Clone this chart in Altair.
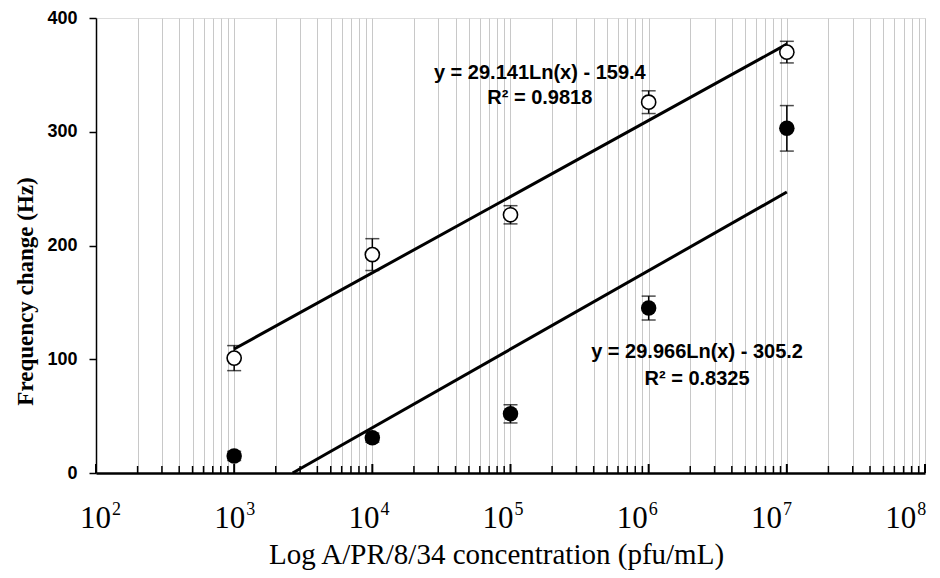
import altair as alt
import pandas as pd

# ---------------- data ----------------
conc = [1e3, 1e4, 1e5, 1e6, 1e7]
open_mean = [101, 192, 227, 326, 370]
open_err = [11, 14, 8, 10, 9.5]
filled_mean = [15, 31, 52, 145, 303]
filled_err = [4, 4, 8, 10.5, 20]

fit_upper_x = [1e3, 1e7]
fit_upper_y = [109, 377]
fit_lower_x = [2650, 1e7]
fit_lower_y = [0, 247]

eq_text = ["y = 29.141Ln(x) - 159.4", "R\u00b2 = 0.9818",
           "y = 29.966Ln(x) - 305.2", "R\u00b2 = 0.8325"]
eq_x = [1.63e5, 1.63e5, 2.24e6, 2.24e6]
eq_y = [352, 330, 106, 83]

decades = [1e2, 1e3, 1e4, 1e5, 1e6, 1e7, 1e8]
exponents = ["2", "3", "4", "5", "6", "7", "8"]
y_ticks = [0, 100, 200, 300, 400]
grid_vals = [m * d for d in decades[:-1] for m in range(1, 10)] + [1e8]

# ---------------- layout ----------------
W, H = 829, 455
SERIF = "Liberation Serif"
SANS = "Liberation Sans"

xscale = alt.Scale(type="log", domain=[1e2, 1e8], nice=False)
yscale = alt.Scale(domain=[0, 400], nice=False)

pts = pd.DataFrame({
    "conc": conc * 2,
    "mean": open_mean + filled_mean,
    "err": open_err + filled_err,
    "series": ["open"] * 5 + ["filled"] * 5,
})
pts["lo"] = pts["mean"] - pts["err"]
pts["hi"] = pts["mean"] + pts["err"]

fits = pd.DataFrame({
    "x": fit_upper_x + fit_lower_x,
    "y": fit_upper_y + fit_lower_y,
    "fit": ["upper"] * 2 + ["lower"] * 2,
})
eqs = pd.DataFrame({"text": eq_text, "x": eq_x, "y": eq_y})
minor_df = pd.DataFrame({"v": [v for v in grid_vals if v not in decades]})
dec_df = pd.DataFrame({"v": decades, "e": exponents})

xaxis = alt.Axis(values=grid_vals, grid=True, gridColor="#c8c8c8", gridWidth=1,
                 labels=False, ticks=False, domain=True, domainColor="black",
                 domainWidth=2.5,
                 title="Log A/PR/8/34 concentration (pfu/mL)",
                 titleFont=SERIF, titleFontSize=29, titleFontWeight="normal",
                 titleColor="black", titleX=400, titleY=90,
                 titleAlign="center", titleBaseline="alphabetic")
yaxis = alt.Axis(values=y_ticks, grid=False, domainColor="black", domainWidth=1.5,
                 tickColor="black", tickWidth=1.5, tickSize=7,
                 labelFont=SANS, labelFontWeight="bold", labelFontSize=18,
                 labelColor="black", labelPadding=12,
                 title="Frequency change (Hz)", titleFont=SERIF, titleFontSize=23,
                 titleFontWeight="bold", titleColor="black", titleX=-71,
                 titleY=273, titleAngle=270, titleAlign="center",
                 titleBaseline="middle")

X = alt.X("x:Q", scale=xscale, axis=xaxis)
Y = alt.Y("y:Q", scale=yscale, axis=yaxis)

lines = alt.Chart(fits).mark_line(color="black", strokeWidth=3).encode(
    x=X, y=Y, detail="fit:N",
)

minor_ticks = alt.Chart(minor_df).mark_rule(color="black", strokeWidth=1.5).encode(
    x=alt.X("v:Q", scale=xscale),
    y=alt.value(H),
    y2=alt.value(H - 7),
)
major_ticks = alt.Chart(dec_df).mark_rule(color="black", strokeWidth=2).encode(
    x=alt.X("v:Q", scale=xscale),
    y=alt.value(H),
    y2=alt.value(H - 9),
)

err_rules = alt.Chart(pts).mark_rule(color="black", strokeWidth=1.5).encode(
    x=alt.X("conc:Q", scale=xscale),
    y=alt.Y("lo:Q", scale=yscale),
    y2="hi:Q",
)
cap_lo = alt.Chart(pts).mark_tick(orient="horizontal", size=14, thickness=1.5,
                                  color="black").encode(
    x=alt.X("conc:Q", scale=xscale),
    y=alt.Y("lo:Q", scale=yscale),
)
cap_hi = alt.Chart(pts).mark_tick(orient="horizontal", size=14, thickness=1.5,
                                  color="black").encode(
    x=alt.X("conc:Q", scale=xscale),
    y=alt.Y("hi:Q", scale=yscale),
)

open_pts = alt.Chart(pts).transform_filter("datum.series == 'open'").mark_point(
    shape="circle", size=200, fill="white", fillOpacity=1, stroke="black",
    strokeWidth=1.6, opacity=1).encode(
    x=alt.X("conc:Q", scale=xscale),
    y=alt.Y("mean:Q", scale=yscale),
)
filled_pts = alt.Chart(pts).transform_filter("datum.series == 'filled'").mark_circle(
    size=240, color="black", opacity=1).encode(
    x=alt.X("conc:Q", scale=xscale),
    y=alt.Y("mean:Q", scale=yscale),
)

eq_layer = alt.Chart(eqs).mark_text(font=SANS, fontWeight="bold", fontSize=20,
                                    color="black", align="center",
                                    baseline="middle").encode(
    x=alt.X("x:Q", scale=xscale),
    y=alt.Y("y:Q", scale=yscale),
    text="text:N",
)

# decade labels "10" + superscript exponent, evenly spaced under the axis
lab = alt.Chart(dec_df).transform_calculate(
    px="-16 + 134.2 * (log(datum.v) / LN10 - 2)"
)
ten_labels = lab.mark_text(font=SERIF, fontSize=31, color="black",
                           align="left", baseline="alphabetic").encode(
    x=alt.X("px:Q", scale=None),
    y=alt.value(H + 55),
    text=alt.value("10"),
)
exp_labels = lab.mark_text(font=SERIF, fontSize=18, color="black",
                           align="left", baseline="alphabetic", dx=32).encode(
    x=alt.X("px:Q", scale=None),
    y=alt.value(H + 42),
    text="e:N",
)

chart = alt.layer(
    lines, minor_ticks, major_ticks, err_rules, cap_lo, cap_hi, open_pts,
    filled_pts, eq_layer, ten_labels, exp_labels,
).properties(
    width=W, height=H,
    padding={"left": 88, "top": 10, "right": 7, "bottom": 97},
    autosize=alt.AutoSizeParams(type="none"),
).configure_view(stroke="#8a8a8a", strokeWidth=1.5).configure(background="white")

chart.save("out.html", embed_options={"renderer": "svg", "actions": False})
